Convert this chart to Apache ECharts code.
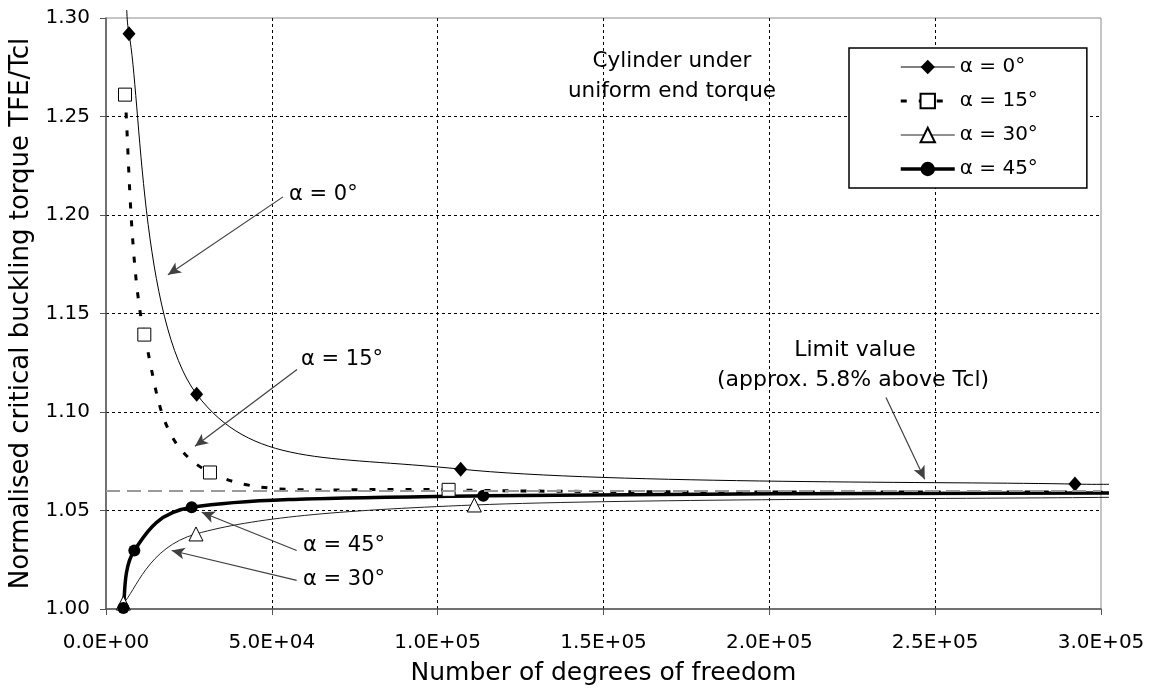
<!DOCTYPE html>
<html>
<head>
<meta charset="utf-8">
<script src="https://cdn.jsdelivr.net/npm/echarts@6/dist/echarts.min.js"></script>
<style>
  html, body { margin: 0; padding: 0; background: #fff; }
  #chart { width: 1155px; height: 691px; }
</style>
</head>
<body>
<div id="chart"></div>
<script>
const FONT = 'DejaVu Sans';

// Number of degrees of freedom and normalised critical buckling torque TFE/Tcl, per cone angle
const dofA0  = [6240, 6935, 27340, 106940, 292150, 302400];
const tfeA0  = [1.304, 1.292, 1.109, 1.071, 1.0634, 1.0633];
const dofA15 = [5730, 11550, 31350, 103300, 302400];
const tfeA15 = [1.2611, 1.1393, 1.0693, 1.0605, 1.0593];
const dofA30 = [5230, 27135, 111050, 302400];
const tfeA30 = [1.003, 1.0381, 1.0528, 1.0567];
const dofA45 = [5230, 8540, 25830, 113760, 302400];
const tfeA45 = [1.0005, 1.0297, 1.0516, 1.0575, 1.0589];

const seriesNames = ['α = 0°', 'α = 15°', 'α = 30°', 'α = 45°'];

// Converged FE result: about 5.8% above Tcl
const limitValue = 1.058;

// Axis ranges and tick steps
const xMin = 0, xMax = 300000, xStep = 50000;
const yMin = 1.0, yMax = 1.3, yStep = 0.05;

// Annotation arrows: [from, to] in data units
const arrowA0    = [[53370, 1.2092], [18690, 1.1697]];
const arrowA15   = [[57590, 1.1216], [26830, 1.0826]];
const arrowA45   = [[57490, 1.0297], [28850, 1.0491]];
const arrowA30   = [[57490, 1.0145], [19800, 1.0297]];
const arrowLimit = [[235170, 1.1074], [246840, 1.0659]];

// Line and marker styles for the four curves
const curveStyles = [
  { stroke: '#000', lineWidth: 1,   lineDash: null },
  { stroke: '#000', lineWidth: 3,   lineDash: [6, 12] },
  { stroke: '#222', lineWidth: 1,   lineDash: null },
  { stroke: '#000', lineWidth: 3.5, lineDash: null }
];
const markerStyles = [
  { symbol: 'diamond',  size: [13, 15], fill: '#000', border: 0 },
  { symbol: 'rect',     size: 13,       fill: '#fff', border: 1 },
  { symbol: 'triangle', size: 14,       fill: '#fff', border: 1 },
  { symbol: 'circle',   size: 12,       fill: '#000', border: 0 }
];

const dofSets = [dofA0, dofA15, dofA30, dofA45];
const tfeSets = [tfeA0, tfeA15, tfeA30, tfeA45];

function markerData(xs, ys) {
  // points beyond the plotted range keep the curve but get no marker
  return xs.map((x, i) => {
    const inside = x <= xMax && ys[i] <= yMax && ys[i] >= yMin;
    return inside ? [x, ys[i]] : { value: [x, ys[i]], symbol: 'none' };
  });
}

function sciLabel(v) {
  const [m, e] = v.toExponential(1).split('e');
  const sign = e[0] === '-' ? '-' : '+';
  const digits = e.replace(/[+-]/, '').padStart(2, '0');
  return m + 'E' + sign + digits;
}

function dist(a, b) { return Math.hypot(b[0] - a[0], b[1] - a[1]); }

// Control-point offset: tangent/6, but never longer than half of the segment
function handle(from, to, segLen) {
  const d = dist(from, to);
  if (d === 0) return [0, 0];
  const f = Math.min(1 / 6, segLen / (2 * d));
  return [(to[0] - from[0]) * f, (to[1] - from[1]) * f];
}

// Smoothed curve made of cubic Bezier segments through the data points
function curveSeries(k) {
  const xs = dofSets[k], ys = tfeSets[k], st = curveStyles[k];
  return {
    type: 'custom', name: 'curve-' + k, z: 2, silent: true,
    data: xs.map((x, i) => [x, ys[i]]),
    encode: { x: 0, y: 1 },
    renderItem: function (params, api) {
      if (params.dataIndex !== 0) return null;
      const pts = xs.map((x, i) => api.coord([x, ys[i]]));
      const n = pts.length;
      const children = [];
      for (let i = 0; i < n - 1; i++) {
        const p0 = pts[Math.max(i - 1, 0)], p1 = pts[i], p2 = pts[i + 1], p3 = pts[Math.min(i + 2, n - 1)];
        const seg = dist(p1, p2);
        const h1 = handle(p0, p2, seg);
        const h2 = handle(p1, p3, seg);
        children.push({
          type: 'bezierCurve',
          shape: {
            x1: p1[0], y1: p1[1], x2: p2[0], y2: p2[1],
            cpx1: p1[0] + h1[0], cpy1: p1[1] + h1[1],
            cpx2: p2[0] - h2[0], cpy2: p2[1] - h2[1]
          },
          style: { fill: null, stroke: st.stroke, lineWidth: st.lineWidth, lineDash: st.lineDash }
        });
      }
      const cs = params.coordSys;
      return {
        type: 'group',
        children: children,
        clipPath: { type: 'rect', shape: { x: cs.x - 6, y: cs.y - 8, width: cs.width + 14, height: cs.height + 14 } }
      };
    }
  };
}

function markerSeries(k) {
  const ms = markerStyles[k];
  return {
    name: seriesNames[k], type: 'line', z: 3, clip: false,
    data: markerData(dofSets[k], tfeSets[k]),
    symbol: ms.symbol, symbolSize: ms.size, showSymbol: true, showAllSymbol: true,
    lineStyle: { opacity: 0 },
    itemStyle: { color: ms.fill, borderColor: '#000', borderWidth: ms.border }
  };
}

const chart = echarts.init(document.getElementById('chart'), null, { renderer: 'canvas' });

const textBase = { fontFamily: FONT, fill: '#000' };
function note(text, x, y, size, align) {
  return { type: 'text', x: x, y: y, silent: true,
    style: Object.assign({}, textBase, { text: text, fontSize: size, align: align, verticalAlign: 'middle' }) };
}

const option = {
  animation: false,
  backgroundColor: '#fff',
  textStyle: { fontFamily: FONT },
  grid: {
    left: 106, right: 54, top: 18, bottom: 81,
    show: true, borderColor: '#8c8c8c', borderWidth: 1, backgroundColor: 'transparent'
  },
  legend: {
    data: seriesNames.map((name, k) => ({
      name: name,
      lineStyle: { color: curveStyles[k].stroke, width: curveStyles[k].lineWidth,
        type: curveStyles[k].lineDash || 'solid', opacity: 1 }
    })),
    orient: 'vertical',
    left: 849, top: 48,
    padding: [7, 49, 7, 50],
    itemWidth: 54, itemHeight: 18, itemGap: 10,
    borderColor: '#000', borderWidth: 1.5,
    backgroundColor: '#fff',
    textStyle: { fontFamily: FONT, fontSize: 20, color: '#000', lineHeight: 24 }
  },
  xAxis: {
    type: 'value', min: xMin, max: xMax, interval: xStep,
    name: 'Number of degrees of freedom',
    nameLocation: 'middle', nameGap: 52,
    nameTextStyle: { fontFamily: FONT, fontSize: 25, color: '#000' },
    axisLine: { show: true, onZero: false, lineStyle: { color: '#555', width: 1.5 } },
    axisTick: { show: true, length: 6, lineStyle: { color: '#555' } },
    axisLabel: { fontFamily: FONT, fontSize: 20, color: '#000', margin: 24, formatter: sciLabel },
    splitLine: { show: true, showMinLine: false, showMaxLine: false,
      lineStyle: { color: '#000', width: 1, type: [3, 3] } }
  },
  yAxis: {
    type: 'value', min: yMin, max: yMax, interval: yStep,
    name: 'Normalised critical buckling torque TFE/Tcl',
    nameLocation: 'middle', nameGap: 71,
    nameTextStyle: { fontFamily: FONT, fontSize: 26, color: '#000' },
    axisLine: { show: true, onZero: false, lineStyle: { color: '#555', width: 1.5 } },
    axisTick: { show: true, length: 6, lineStyle: { color: '#555' } },
    axisLabel: { fontFamily: FONT, fontSize: 20, color: '#000', margin: 16,
      formatter: v => v.toFixed(2) },
    splitLine: { show: true, showMinLine: false, showMaxLine: false,
      lineStyle: { color: '#000', width: 1, type: [3, 3] } }
  },
  series: [
    {
      name: 'limit', type: 'line', data: [], silent: true, z: 1,
      markLine: {
        silent: true, symbol: 'none', animation: false,
        label: { show: false },
        lineStyle: { color: '#9a9a9a', width: 2, type: [14, 7] },
        data: [{ yAxis: limitValue }]
      }
    },
    curveSeries(0), curveSeries(1), curveSeries(2), curveSeries(3),
    markerSeries(0), markerSeries(1), markerSeries(2), markerSeries(3),
    {
      name: 'arrows', type: 'line', data: [], silent: true, z: 4,
      markLine: {
        silent: true, animation: false,
        symbol: ['none', 'arrow'], symbolSize: [9, 13],
        label: { show: false },
        lineStyle: { color: '#404040', width: 1.2, type: 'solid' },
        data: [arrowA0, arrowA15, arrowA45, arrowA30, arrowLimit].map(a => [
          { coord: a[0] }, { coord: a[1] }
        ])
      }
    }
  ],
  graphic: [
    note('Cylinder under', 672, 61, 21.5, 'center'),
    note('uniform end torque', 672, 91, 21.5, 'center'),
    note('α = 0°', 289, 195, 21, 'left'),
    note('α = 15°', 301, 360, 21, 'left'),
    note('α = 45°', 303, 546, 21, 'left'),
    note('α = 30°', 303, 580, 21, 'left'),
    note('Limit value', 855, 350, 22, 'center'),
    note('(approx. 5.8% above Tcl)', 853, 380, 22, 'center')
  ]
};

chart.setOption(option);
</script>
</body>
</html>
